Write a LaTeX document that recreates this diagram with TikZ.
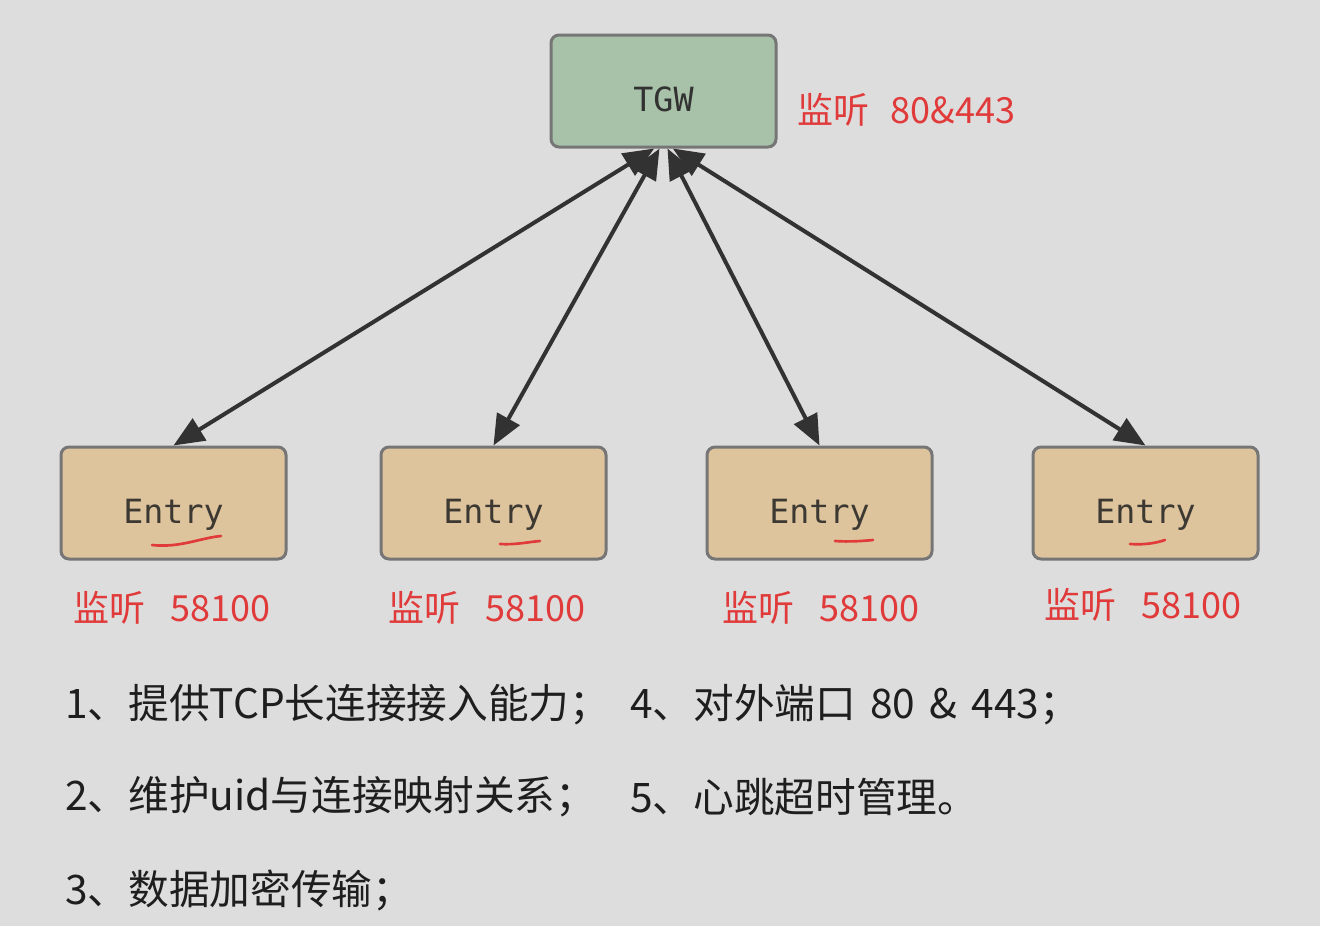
\documentclass[tikz,border=0pt]{standalone}
\usepackage{fontspec}
\newfontfamily\cjk{Noto Sans CJK SC}
\newfontfamily\mono{DejaVu Sans Mono}
\usetikzlibrary{arrows.meta}
\definecolor{bg}{RGB}{221,221,221}
\definecolor{tgwfill}{RGB}{167,194,168}
\definecolor{entryfill}{RGB}{222,196,157}
\definecolor{boxline}{RGB}{118,118,118}
\definecolor{redtxt}{RGB}{224,58,58}
\definecolor{arrowc}{RGB}{50,50,50}
\definecolor{txt}{RGB}{30,30,30}
\definecolor{boxtxt}{RGB}{60,56,50}
\begin{document}
\begin{tikzpicture}[x=0.75pt,y=-0.75pt,
  box/.style={draw=boxline,line width=2.25pt,rounded corners=6pt,minimum width=168.75pt,minimum height=84pt,inner sep=0pt,text=boxtxt,font=\mono\fontsize{25}{25}\selectfont},
  tgwbox/.style={box,fill=tgwfill,font=\mono\fontsize{25}{25}\selectfont,text=arrowc,text height=30pt,text depth=0pt},
  entrybox/.style={box,fill=entryfill,text height=31pt,text depth=0pt},
  conn/.style={draw=arrowc,line width=3pt,{Triangle[length=23pt,width=19pt]}-{Triangle[length=23pt,width=19pt]}},
  redlabel/.style={anchor=west,inner sep=0pt,text=redtxt,font=\cjk\fontsize{27}{27}\selectfont},
  listtext/.style={anchor=west,inner sep=0pt,text=txt,font=\cjk\fontsize{30.5}{30.5}\selectfont},
  redmark/.style={draw=redtxt,line width=2pt,line cap=round}
]
\useasboundingbox[fill=bg] (0,0) rectangle (1320,926);

\node[tgwbox] (tgw) at (663.5,91) {TGW};
\node[entrybox] (e1) at (173.5,503) {Entry};
\node[entrybox] (e2) at (493.5,503) {Entry};
\node[entrybox] (e3) at (819.5,503) {Entry};
\node[entrybox] (e4) at (1145.5,503) {Entry};

\coordinate (t1) at ([xshift=-7pt]tgw.south);
\coordinate (t2) at ([xshift=-3pt]tgw.south);
\coordinate (t3) at ([xshift=3pt]tgw.south);
\coordinate (t4) at ([xshift=7pt]tgw.south);
\draw[conn] (e1.north) -- (t1);
\draw[conn] (e2.north) -- (t2);
\draw[conn] (e3.north) -- (t3);
\draw[conn] (e4.north) -- (t4);

\node[redlabel] (l0) at (797,110) {监听\hspace{0.6em}80\&443};
\node[redlabel] (l1) at (73,608) {监听\hspace{0.7em}58100};
\node[redlabel] (l2) at (388,608) {监听\hspace{0.7em}58100};
\node[redlabel] (l3) at (722,608) {监听\hspace{0.7em}58100};
\node[redlabel] (l4) at (1044,605) {监听\hspace{0.7em}58100};

\draw[redmark] (152,545) .. controls (180,548) and (200,538) .. (221,536);
\draw[redmark] (500,544) .. controls (515,545) and (528,542) .. (540,541);
\draw[redmark] (835,541) .. controls (850,542) and (862,541) .. (873,540);
\draw[redmark] (1130,544) .. controls (1145,545) and (1156,543) .. (1165,540);

\node[listtext] (i1) at (65,705) {1、提供TCP长连接接入能力；};
\node[listtext] (i4) at (630,705) {4、对外端口\hspace{0.35em}80\hspace{0.35em}\&\hspace{0.35em}443；};
\node[listtext] (i2) at (65,797) {2、维护uid与连接映射关系；};
\node[listtext] (i5) at (630,797) {5、心跳超时管理。};
\node[listtext] (i3) at (65,890) {3、数据加密传输；};
\end{tikzpicture}
\end{document}
